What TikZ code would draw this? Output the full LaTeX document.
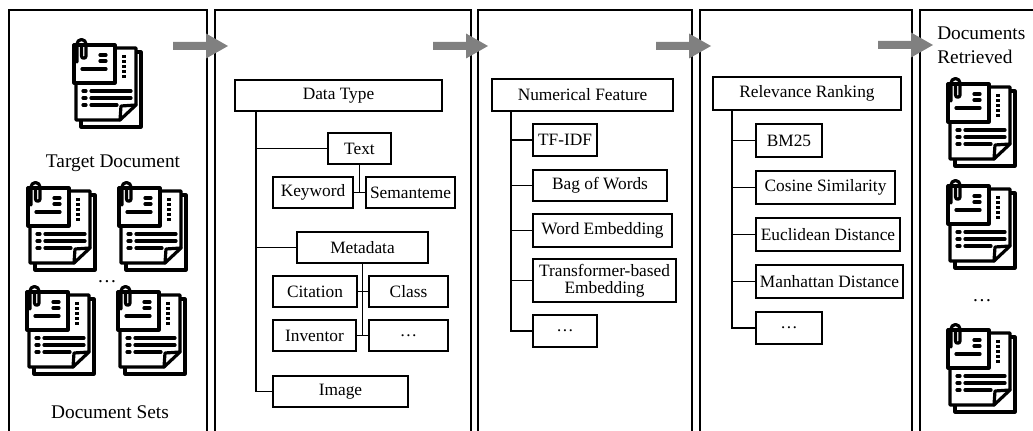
\documentclass[tikz,border=0pt]{standalone}
\usepackage{fontspec}
\setmainfont{Liberation Serif}
\definecolor{arrowgray}{RGB}{128,128,128}
\begin{document}
\begin{tikzpicture}[x=0.75pt,y=-0.75pt,
  panel/.style={line width=1.6pt},
  tbox/.style={draw, line width=0.8pt, inner sep=0pt, align=center, font=\fontsize{13}{13}\selectfont},
  wh/.style 2 args={minimum width=#1*0.75pt, minimum height=#2*0.75pt},
  link/.style={line width=0.9pt},
  lbl/.style={inner sep=0pt, font=\fontsize{14.5}{18}\selectfont},
  icon/.style={line width=2.4pt, line join=round, line cap=round},
  docicon/.pic={
    \draw[icon] (62,12) -- (67,12) -- (67,87) -- (7,87) -- (7,81);
    \draw[icon, fill=white] (41,8) -- (62,8) -- (62,65) -- (46,80) -- (2,80) -- (2,43);
    \draw[icon] (46,80) -- (47,66) -- (62,65);
    \draw[icon, fill=white] (0,5) rectangle (41,43);
    \draw[icon] (3,22) -- (3,4) arc[start angle=180,end angle=360,radius=4.5] -- (12,16) arc[start angle=0,end angle=180,radius=2.25] -- (7.5,7);
    \draw[icon] (26,15) -- (32,15) (26,21) -- (32,21) (8,29) -- (32,29);
    \draw[icon, line cap=butt, dash pattern=on 2.2pt off 1.6pt] (50,15) -- (50,38);
    \draw[icon] (9,51) -- (12,51) (17,51) -- (57,51)
                (9,58) -- (12,58) (17,58) -- (57,58)
                (9,65) -- (12,65) (17,65) -- (43,65);
  },
  garrow/.pic={
    \fill[arrowgray] (0,-4) -- (33,-4) -- (33,-12.5) -- (55,0) -- (33,12.5) -- (33,4) -- (0,4) -- cycle;
  }
]
\useasboundingbox (0,0) rectangle (1033,431);

% panels
\draw[panel] (9,440) -- (9,10) -- (207,10) -- (207,440);
\draw[panel] (215,440) -- (215,10) -- (471,10) -- (471,440);
\draw[panel] (478,440) -- (478,10) -- (692,10) -- (692,440);
\draw[panel] (700,440) -- (700,10) -- (912,10) -- (912,440);
\draw[panel] (920,440) -- (920,10) -- (1040,10);

% arrows
\pic at (173,46) {garrow};
\pic at (433,46) {garrow};
\pic at (656,46) {garrow};
\pic at (878,45) {garrow};

% panel 1
\pic at (74,40) {docicon};
\node[lbl] (tgt) at (113,163) {Target Document};
\pic at (28,183) {docicon};
\pic at (119,183) {docicon};
\node[lbl] (dots1) at (107,282) {\dots};
\pic at (27,287) {docicon};
\pic at (118,287) {docicon};
\node[lbl] (sets) at (110,412) {Document Sets};

% panel 2
\node[tbox, wh={207}{31}] (dtype) at (338.5,95.5) {Data Type};
\node[tbox, wh={63}{31}] (text) at (359.5,148.5) {Text};
\node[tbox, wh={80}{31}] (keyword) at (313,192.5) {Keyword};
\node[tbox, wh={89}{31}] (semant) at (410.5,192.5) {Semanteme};
\node[tbox, wh={131}{31}] (meta) at (362.5,247.5) {Metadata};
\node[tbox, wh={84}{31}] (citation) at (315,291.5) {Citation};
\node[tbox, wh={79}{31}] (class) at (408.5,291.5) {Class};
\node[tbox, wh={83}{31}] (inventor) at (314.5,335.5) {Inventor};
\node[tbox, wh={79}{31}] (mdots) at (408.5,335.5) {\dots};
\node[tbox, wh={135}{31}] (image) at (340.5,391.5) {Image};
\coordinate (t2) at (256,111);
\draw[link] (t2) |- (image.west);
\draw[link] (t2 |- text.west) -- (text.west);
\draw[link] (t2 |- meta.west) -- (meta.west);
\draw[link] (text.south) -- (text.south |- keyword.east);
\draw[link] (keyword.east) -- (semant.west);
\draw[link] (meta.south) -- (meta.south |- inventor.east);
\draw[link] (citation.east) -- (class.west);
\draw[link] (inventor.east) -- (mdots.west);

% panel 3
\node[tbox, wh={181}{32}] (numf) at (582.5,95) {Numerical Feature};
\node[tbox, wh={64}{32}] (tfidf) at (565,140) {TF-IDF};
\node[tbox, wh={134}{31}] (bow) at (600,185.5) {Bag of Words};
\node[tbox, wh={139}{33}] (wemb) at (602.5,230.5) {Word Embedding};
\node[tbox, wh={143}{43}] (tbe) at (604.5,280.5) {Transformer-based\\Embedding};
\node[tbox, wh={64}{32}] (ndots) at (565,331) {\dots};
\coordinate (t3) at (511,111);
\draw[link] (t3) |- (ndots.west);
\foreach \n in {tfidf,bow,wemb,tbe} \draw[link] (t3 |- \n.west) -- (\n.west);

% panel 4
\node[tbox, wh={188}{33}] (rr) at (807,93.5) {Relevance Ranking};
\node[tbox, wh={66}{33}] (bm25) at (789,140.5) {BM25};
\node[tbox, wh={139}{33}] (cos) at (825.5,187.5) {Cosine Similarity};
\node[tbox, wh={144}{33}] (euc) at (828,234.5) {Euclidean Distance};
\node[tbox, wh={147}{33}] (man) at (829.5,281.5) {Manhattan Distance};
\node[tbox, wh={66}{32}] (rdots) at (789,328) {\dots};
\coordinate (t4) at (732,110);
\draw[link] (t4) |- (rdots.west);
\foreach \n in {bm25,cos,euc,man} \draw[link] (t4 |- \n.west) -- (\n.west);

% panel 5
\node[lbl, align=left, anchor=west] (ret) at (937,45) {Documents\\Retrieved};
\pic at (948,79) {docicon};
\pic at (948,181) {docicon};
\node[lbl] (dots5) at (982,301) {\dots};
\pic at (948,325) {docicon};
\end{tikzpicture}
\end{document}
